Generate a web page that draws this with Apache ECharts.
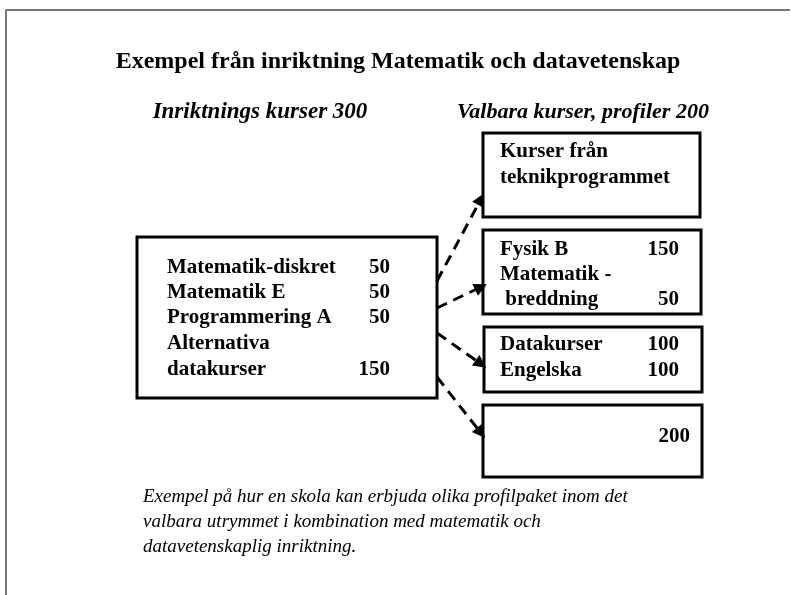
<!DOCTYPE html>
<html>
<head>
<meta charset="utf-8">
<script src="https://cdn.jsdelivr.net/npm/echarts@6/dist/echarts.min.js"></script>
<style>
  html, body { margin: 0; padding: 0; background: #fff; }
  #main { width: 793px; height: 595px; }
</style>
</head>
<body>
<div id="main"></div>
<script>
// texter
var titleText = 'Exempel från inriktning Matematik och datavetenskap';
var leftHeading = 'Inriktnings kurser 300';
var rightHeading = 'Valbara kurser, profiler 200';
var caption = [
    'Exempel på hur en skola kan erbjuda olika profilpaket inom det',
    'valbara utrymmet i kombination med matematik och',
    'datavetenskaplig inriktning.'
];

// inriktningskurser
var leftCourses = ['Matematik-diskret', 'Matematik E', 'Programmering A', 'Alternativa', 'datakurser'];
var leftPoints = [50, 50, 50, null, 150];

// profiler (en lista per ruta)
var profileCourses = [
    ['Kurser från', 'teknikprogrammet'],
    ['Fysik B', 'Matematik -', ' breddning'],
    ['Datakurser', 'Engelska'],
    ['']
];
var profilePoints = [
    [null, null],
    [150, null, 50],
    [100, 100],
    [200]
];

// layout (i bildens koordinater, y nedåt)
var leftBox = [137, 237, 437, 398];
var rightBoxes = [
    [483, 133, 700, 217],
    [483, 230, 701, 314],
    [484, 327, 702, 392],
    [483, 405, 702, 477]
];
var arrowLinks = [
    [[437, 281], [481, 199]],
    [[437, 308], [481, 287]],
    [[437, 333], [481, 364]],
    [[437, 377], [481, 433]]
];

var serif = '"Liberation Serif", "DejaVu Serif", serif';
var chart = echarts.init(document.getElementById('main'));

// bygg textrader
var textItems = [];
textItems.push({ value: [398, 62], text: titleText, size: 24, weight: 'bold', style: 'normal', align: 'center' });
textItems.push({ value: [260, 112], text: leftHeading, size: 23, weight: 'bold', style: 'italic', align: 'center' });
textItems.push({ value: [583, 112], text: rightHeading, size: 22, weight: 'bold', style: 'italic', align: 'center' });
var leftRowsY = [268, 293, 318, 344, 370];
leftCourses.forEach(function (c, i) {
    textItems.push({ value: [167, leftRowsY[i]], text: c, size: 21, weight: 'bold', style: 'normal', align: 'left' });
    if (leftPoints[i] != null) {
        textItems.push({ value: [390, leftRowsY[i]], text: String(leftPoints[i]), size: 21, weight: 'bold', style: 'normal', align: 'right' });
    }
});
var rightRowsY = [[152, 178], [250, 275, 300], [345, 371], [437]];
var rightValueX = [678, 679, 679, 690];
profileCourses.forEach(function (rows, b) {
    rows.forEach(function (c, i) {
        if (c) {
            textItems.push({ value: [500, rightRowsY[b][i]], text: c, size: 21, weight: 'bold', style: 'normal', align: 'left' });
        }
        if (profilePoints[b][i] != null) {
            textItems.push({ value: [rightValueX[b], rightRowsY[b][i]], text: String(profilePoints[b][i]), size: 21, weight: 'bold', style: 'normal', align: 'right' });
        }
    });
});
var captionY = [497, 522, 547];
caption.forEach(function (c, i) {
    textItems.push({ value: [143, captionY[i]], text: c, size: 19, weight: 'normal', style: 'italic', align: 'left' });
});

var boxData = [leftBox].concat(rightBoxes);

var option = {
    animation: false,
    backgroundColor: '#fff',
    grid: { left: 0, right: 0, top: 0, bottom: 0 },
    xAxis: { type: 'value', min: 0, max: 793, show: false },
    yAxis: { type: 'value', min: 0, max: 595, inverse: true, show: false },
    series: [
        {
            // ram
            type: 'line',
            data: [[6, 595], [6, 10], [790, 10]],
            symbol: 'none',
            lineStyle: { color: '#777', width: 2 }
        },
        {
            type: 'custom',
            data: boxData,
            renderItem: function (params, api) {
                var p0 = api.coord([api.value(0), api.value(1)]);
                var p1 = api.coord([api.value(2), api.value(3)]);
                return {
                    type: 'rect',
                    shape: { x: p0[0], y: p0[1], width: p1[0] - p0[0], height: p1[1] - p0[1] },
                    style: { fill: 'none', stroke: '#000', lineWidth: 3 }
                };
            }
        },
        {
            type: 'lines',
            coordinateSystem: 'cartesian2d',
            data: arrowLinks.map(function (l) { return { coords: l }; }),
            symbol: ['none', 'triangle'],
            symbolSize: 13,
            lineStyle: { color: '#000', width: 3, type: [11, 7], opacity: 1, curveness: 0 }
        },
        {
            type: 'custom',
            data: textItems,
            renderItem: function (params, api) {
                var item = textItems[params.dataIndex];
                var p = api.coord(item.value);
                return {
                    type: 'text',
                    x: p[0],
                    y: p[1],
                    style: {
                        text: item.text,
                        fill: '#000',
                        font: item.style + ' ' + item.weight + ' ' + item.size + 'px ' + serif,
                        textAlign: item.align,
                        textVerticalAlign: 'middle'
                    }
                };
            }
        }
    ]
};
chart.setOption(option);
</script>
</body>
</html>
